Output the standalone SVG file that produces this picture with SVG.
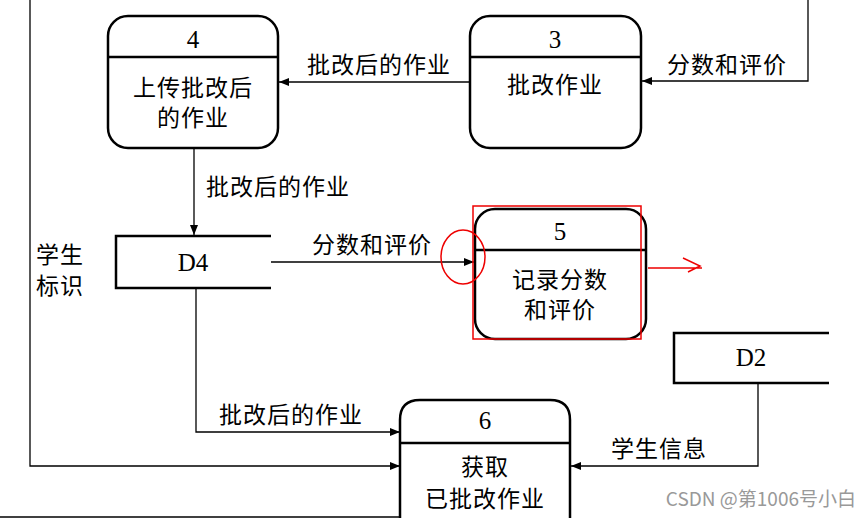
<svg xmlns="http://www.w3.org/2000/svg" width="866" height="518" viewBox="0 0 866 518">
<style>
.box{fill:#fff;stroke:#000;stroke-width:2.5}
.div{stroke:#000;stroke-width:2.5}
.store{fill:none;stroke:#000;stroke-width:2.5}
.con{fill:none;stroke:#000;stroke-width:1.3}
.t{font-family:"Liberation Serif","Noto Sans CJK SC",serif;font-size:23px;fill:#000;text-anchor:middle;letter-spacing:1px}
.n{font-family:"Liberation Serif","Noto Sans CJK SC",serif;font-size:25px;fill:#000;text-anchor:middle}
.l{font-family:"Liberation Serif","Noto Sans CJK SC",serif;font-size:23px;fill:#000;letter-spacing:1px}
.red{fill:none;stroke:#e00;stroke-width:1.5}
</style>
<defs>
<marker id="a" viewBox="0 0 10 8" refX="10" refY="4" markerWidth="10" markerHeight="8" markerUnits="userSpaceOnUse" orient="auto">
<path d="M0,0 L10,4 L0,8 z" fill="#000"/>
</marker>
</defs>
<rect width="866" height="518" fill="#fff"/>
<g id="connectors">
<path class="con" d="M470,82 H279" marker-end="url(#a)"/>
<path class="con" d="M808,0 V81 H642" marker-end="url(#a)"/>
<path class="con" d="M30,0 V466 H400" marker-end="url(#a)"/>
<path class="con" d="M194,148 V235" marker-end="url(#a)"/>
<path class="con" d="M271,262 H474" marker-end="url(#a)"/>
<path class="con" d="M196,289 V432 H400" marker-end="url(#a)"/>
<path class="con" d="M758,384 V466 H571" marker-end="url(#a)"/>
<path class="con" d="M0,517 H400"/>
<text class="l" x="307" y="73">批改后的作业</text>
<text class="l" x="667" y="73">分数和评价</text>
<text class="l" x="206" y="195">批改后的作业</text>
<text class="l" x="312" y="253">分数和评价</text>
<text class="l" x="36" y="263">学生</text>
<text class="l" x="36" y="294">标识</text>
<text class="l" x="219" y="423">批改后的作业</text>
<text class="l" x="611" y="457">学生信息</text>
</g>
<g id="node4">
<rect class="box" x="108" y="16" width="170" height="132" rx="20"/>
<line class="div" x1="108" y1="57" x2="278" y2="57"/>
<text class="n" x="193" y="48">4</text>
<text class="t" x="193" y="96">上传批改后</text>
<text class="t" x="193" y="126">的作业</text>
</g>
<g id="node3">
<rect class="box" x="470" y="16" width="171" height="132" rx="20"/>
<line class="div" x1="470" y1="57" x2="641" y2="57"/>
<text class="n" x="555" y="48">3</text>
<text class="t" x="555" y="93">批改作业</text>
</g>
<g id="D4">
<path class="store" d="M271,236 H116 V288 H271"/>
<text class="n" x="193" y="271">D4</text>
</g>
<g id="node5">
<rect class="box" x="475" y="209" width="171" height="130" rx="20"/>
<line class="div" x1="475" y1="250" x2="646" y2="250"/>
<text class="n" x="560" y="240">5</text>
<text class="t" x="560" y="288">记录分数</text>
<text class="t" x="560" y="318">和评价</text>
</g>
<g id="D2">
<path class="store" d="M829,333 H674 V383 H829"/>
<text class="n" x="751" y="366">D2</text>
</g>
<g id="node6">
<path class="box" d="M400,520 V420 Q400,400 420,400 H550 Q570,400 570,420 V520"/>
<line class="div" x1="400" y1="443" x2="570" y2="443"/>
<text class="n" x="485" y="429">6</text>
<text class="t" x="485" y="475">获取</text>
<text class="t" x="485" y="507">已批改作业</text>
</g>
<g id="annotations">
<rect class="red" x="473" y="206" width="168" height="133"/>
<ellipse class="red" cx="463" cy="257" rx="22" ry="27"/>
<path class="red" d="M648,268 H702 M683,258 L700,266 L688,272"/>
</g>
<text x="856" y="506" style="font-family:'Noto Sans CJK SC','Noto Sans',sans-serif;font-size:19px;fill:#999;text-anchor:end">CSDN @第1006号小白</text>
</svg>
